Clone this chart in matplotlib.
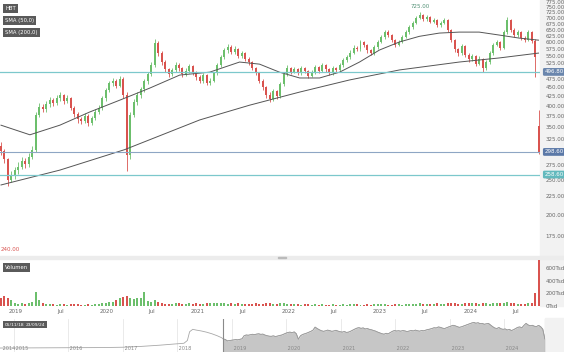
import numpy as np
import pandas as pd
import matplotlib
matplotlib.use("Agg")
import matplotlib.pyplot as plt
from matplotlib.patches import Rectangle

# --- datos (velas quincenales) ---
opens = [310, 300, 285, 250, 258, 266, 272, 282, 276, 290,
         302, 378, 398, 392, 405, 416, 408, 420, 428, 414,
         420, 396, 380, 368, 364, 376, 360, 370, 386, 396,
         420, 442, 462, 470, 455, 476, 430, 292, 378, 410,
         428, 445, 468, 490, 520, 596, 560, 530, 505, 490,
         502, 520, 508, 490, 500, 515, 495, 480, 470, 486,
         462, 470, 492, 520, 546, 570, 582, 565, 576, 550,
         560, 540, 528, 510, 494, 470, 450, 430, 418, 440,
         426, 460, 490, 510, 498, 505, 494, 510, 500, 485,
         496, 512, 500, 520, 505, 494, 510, 504, 520, 536,
         546, 562, 580, 574, 600, 590, 570, 560, 582, 602,
         620, 642, 630, 610, 590, 602, 622, 640, 660, 680,
         700, 714, 694, 706, 684, 690, 668, 680, 690, 648,
         608, 574, 560, 586, 554, 540, 550, 524, 540, 510,
         530, 560, 590, 600, 580, 640, 690, 650, 630, 642,
         618, 610, 640, 606, 352]
closes = [300, 285, 250, 258, 266, 272, 282, 276, 290, 302,
          378, 398, 392, 405, 416, 408, 420, 428, 414, 420,
          396, 380, 368, 364, 376, 360, 370, 386, 396, 420,
          442, 462, 470, 455, 476, 430, 292, 378, 410, 428,
          445, 468, 490, 520, 596, 560, 530, 505, 490, 502,
          520, 508, 490, 500, 515, 495, 480, 470, 486, 462,
          470, 492, 520, 546, 570, 582, 565, 576, 550, 560,
          540, 528, 510, 494, 470, 450, 430, 418, 440, 426,
          460, 490, 510, 498, 505, 494, 510, 500, 485, 496,
          512, 500, 520, 505, 494, 510, 504, 520, 536, 546,
          562, 580, 574, 600, 590, 570, 560, 582, 602, 620,
          642, 630, 610, 590, 602, 622, 640, 660, 680, 700,
          714, 694, 706, 684, 690, 668, 680, 690, 648, 608,
          574, 560, 586, 554, 540, 550, 524, 540, 510, 530,
          560, 590, 600, 580, 640, 690, 650, 630, 642, 618,
          610, 640, 606, 545, 299]
highs = [318, 305, 288, 264, 272, 280, 290, 288, 296, 310,
         384, 408, 404, 414, 424, 420, 428, 438, 432, 428,
         424, 400, 386, 374, 382, 380, 376, 392, 402, 426,
         448, 470, 478, 474, 484, 480, 436, 384, 418, 436,
         452, 476, 498, 530, 612, 604, 566, 536, 510, 510,
         528, 526, 512, 508, 522, 520, 500, 486, 492, 490,
         478, 498, 526, 552, 578, 592, 588, 584, 580, 568,
         564, 546, 532, 514, 498, 474, 454, 436, 446, 444,
         466, 496, 518, 514, 512, 510, 516, 514, 504, 502,
         518, 516, 526, 524, 510, 516, 514, 526, 542, 554,
         570, 588, 586, 608, 606, 594, 576, 588, 610, 628,
         650, 648, 634, 614, 610, 630, 648, 668, 688, 710,
         725, 718, 714, 710, 698, 694, 688, 698, 694, 652,
         612, 580, 594, 590, 560, 558, 554, 548, 544, 536,
         566, 596, 610, 606, 648, 705, 694, 656, 650, 646,
         624, 648, 646, 612, 390]
lows = [292, 278, 240, 246, 252, 260, 268, 270, 272, 286,
        298, 372, 384, 386, 398, 400, 402, 414, 406, 408,
        390, 372, 360, 356, 358, 352, 354, 366, 380, 390,
        414, 436, 454, 448, 450, 420, 265, 285, 372, 402,
        420, 438, 460, 484, 514, 548, 520, 496, 482, 484,
        496, 500, 482, 484, 494, 488, 472, 462, 464, 456,
        456, 466, 488, 514, 540, 562, 556, 558, 544, 544,
        532, 520, 502, 486, 462, 442, 422, 410, 412, 418,
        420, 454, 484, 490, 492, 486, 488, 492, 478, 480,
        490, 494, 496, 498, 486, 488, 496, 498, 514, 530,
        540, 556, 566, 568, 582, 562, 552, 554, 576, 596,
        614, 622, 602, 582, 584, 596, 616, 634, 654, 674,
        694, 686, 688, 676, 676, 660, 662, 672, 640, 600,
        564, 550, 554, 546, 530, 532, 516, 518, 496, 504,
        524, 554, 584, 572, 576, 634, 642, 622, 622, 610,
        600, 604, 598, 480, 295]
volumes = [130, 150, 120, 90, 40, 35, 50, 30, 45, 70,
           220, 90, 40, 30, 25, 30, 22, 25, 30, 20,
           35, 30, 25, 20, 22, 28, 20, 25, 30, 40,
           50, 60, 70, 90, 120, 140, 150, 130, 110, 120,
           125, 220, 80, 70, 90, 60, 45, 35, 30, 28,
           40, 55, 30, 35, 40, 30, 45, 30, 35, 50,
           40, 55, 45, 50, 40, 35, 40, 30, 45, 35,
           30, 35, 30, 40, 30, 35, 45, 40, 30, 35,
           45, 40, 30, 25, 30, 25, 20, 25, 30, 22,
           25, 20, 30, 22, 20, 25, 18, 20, 25, 22,
           28, 25, 30, 22, 20, 25, 22, 28, 25, 30,
           25, 22, 20, 25, 30, 22, 25, 28, 30, 35,
           40, 30, 28, 25, 35, 40, 35, 30, 40, 45,
           40, 35, 30, 45, 40, 55, 40, 35, 45, 40,
           35, 45, 55, 40, 50, 60, 50, 40, 35, 30,
           35, 40, 45, 200, 720]

sma50_dates = ["2018-11-05", "2019-03-01", "2019-06-29", "2019-10-27", "2020-02-24",
               "2020-06-23", "2020-10-22", "2021-02-19", "2021-06-19", "2021-09-07",
               "2021-11-26", "2022-02-15", "2022-05-06", "2022-07-25", "2022-10-13",
               "2023-01-01", "2023-03-22", "2023-06-10", "2023-08-29", "2023-11-17",
               "2024-02-05", "2024-04-26", "2024-07-15", "2024-09-30"]
sma50 = [354, 333, 354, 385, 415, 448, 487, 496, 529, 522, 496, 478,
         478, 496, 529, 571, 601, 623, 636, 640, 640, 628, 616, 608]
sma200_dates = ["2018-11-05", "2019-06-29", "2020-03-15", "2021-01-10", "2021-07-29",
                "2022-02-15", "2022-09-03", "2023-03-22", "2023-11-17", "2024-04-26",
                "2024-09-30"]
sma200 = [242, 266, 303, 366, 402, 437, 472, 503, 529, 543, 560]

# navegador: historia anterior
nav_dates = ["2014-10-01", "2015-03-01", "2015-09-01", "2016-03-01", "2016-09-01",
             "2017-01-01", "2017-05-01", "2017-09-01", "2017-12-15", "2018-02-15",
             "2018-03-10", "2018-03-25", "2018-04-15", "2018-05-10", "2018-06-10",
             "2018-07-15", "2018-08-20", "2018-09-25", "2018-10-25"]
nav_vals = [70, 72, 75, 78, 82, 90, 110, 140, 170, 190,
            260, 480, 540, 520, 500, 470, 430, 380, 330]

levels = [496.80, 258.60]
last_price = 298.60
price_ticks = [175, 200, 225, 250, 275, 325, 350, 375, 400, 425, 450, 475, 500,
               525, 550, 575, 600, 625, 650, 675, 700, 725, 750, 775]
vol_ticks = [0, 200, 400, 600]
vol_labels = ["0Tsd", "200Tsd", "400Tsd", "600Tsd"]

# --- figura ---
W, H = 564, 352
fig = plt.figure(figsize=(W / 100, H / 100), dpi=100)
plt.rcParams['font.family'] = ['DejaVu Sans']


def box(l, t, r, b):
    return [l / W, 1 - b / H, (r - l) / W, (b - t) / H]


GREEN = '#6cbf6c'
RED = '#d9534f'
TXT = '#666666'

# columna gris de la derecha y separador
fig.patches.append(Rectangle((540 / W, 46 / H), 24 / W, 306 / H, transform=fig.transFigure,
                             color='#f2f2f2', zorder=-5))
fig.patches.append(Rectangle((545 / W, 0), 19 / W, 34 / H, transform=fig.transFigure,
                             color='#f2f2f2', zorder=-5))
fig.patches.append(Rectangle((0, 1 - 259 / H), 564 / W, 3.5 / H, transform=fig.transFigure,
                             color='#ececec', zorder=-4))
fig.patches.append(Rectangle((278 / W, 1 - 258 / H), 8 / W, 1.5 / H, transform=fig.transFigure,
                             color='#bbbbbb', zorder=-3))

dates = pd.date_range("2018-11-05", periods=len(closes), freq="14D")
x0, x1 = pd.Timestamp("2018-11-01"), pd.Timestamp("2024-10-06")

o = np.array(opens, float)
c = np.array(closes, float)
up = c >= o
col = np.where(up, GREEN, RED)
bot = np.minimum(o, c)
hgt = np.maximum(np.abs(c - o), 1.5)

ax = fig.add_axes(box(0, 0, 540, 255))
ax.set_yscale('log')
ax.vlines(dates, lows, highs, colors=col, lw=0.6)
ax.bar(dates, hgt, bottom=bot, width=8, color=col, linewidth=0)
ax.plot(pd.to_datetime(sma50_dates), sma50, color='#555555', lw=0.7)
ax.plot(pd.to_datetime(sma200_dates), sma200, color='#555555', lw=0.7)
for lv in levels:
    ax.axhline(lv, color='#7cc8cc', lw=0.9)
ax.axhline(last_price, color='#8ea6c4', lw=0.8)
ax.set_xlim(x0, x1)
ax.set_ylim(155, 785)
ax.yaxis.tick_right()
ax.set_yticks(price_ticks)
ax.set_yticklabels([f"{v:.2f}" for v in price_ticks])
ax.yaxis.set_minor_locator(matplotlib.ticker.NullLocator())
ax.tick_params(axis='y', length=0, pad=4, labelsize=4, labelcolor=TXT)
ax.set_xticks([])
for s in ax.spines.values():
    s.set_visible(False)
ax.patch.set_alpha(0)

yt = ax.get_yaxis_transform()
for lv, fc in [(levels[0], '#6a86ad'), (last_price, '#5b79a8'), (levels[1], '#62b9bd')]:
    ax.text(1.008, lv, f"{lv:.2f}", transform=yt, ha='left', va='center', fontsize=4,
            color='white', clip_on=False,
            bbox=dict(boxstyle='round,pad=0.25', fc=fc, ec='none'))

ax.text(dates[120], 752, "725.00", ha='center', va='center', fontsize=4, color='#4f8f73')
ax.text(dates[0], 161, "240.00", ha='left', va='center', fontsize=4, color=RED)

for ty, lab in [(8.5, "HBT"), (20.5, "SMA (50,0)"), (32.5, "SMA (200,0)")]:
    fig.text(5 / W, 1 - ty / H, lab, ha='left', va='center', fontsize=3.8, color='white',
             bbox=dict(boxstyle='square,pad=0.4', fc='#5a5a5a', ec='none'))

# --- volumen ---
axv = fig.add_axes(box(0, 259, 540, 306))
axv.bar(dates, volumes, width=8, color=col, linewidth=0)
axv.set_xlim(x0, x1)
axv.set_ylim(0, 740)
axv.yaxis.tick_right()
axv.set_yticks(vol_ticks)
axv.set_yticklabels(vol_labels)
tick_dates = []
tick_labels = []
for yr in range(2019, 2025):
    tick_dates += [pd.Timestamp(f"{yr}-01-01"), pd.Timestamp(f"{yr}-07-01")]
    tick_labels += [str(yr), "Jul"]
axv.set_xticks(tick_dates)
axv.set_xticklabels(tick_labels)
axv.tick_params(length=0, labelsize=4, labelcolor=TXT)
axv.tick_params(axis='x', pad=2)
axv.tick_params(axis='y', pad=4)
for s in axv.spines.values():
    s.set_visible(False)
axv.patch.set_alpha(0)
fig.text(5 / W, 1 - 267.5 / H, "Volumen", ha='left', va='center', fontsize=3.8, color='white',
         bbox=dict(boxstyle='square,pad=0.4', fc='#5a5a5a', ec='none'))

# --- navegador ---
axn = fig.add_axes(box(0, 319, 545, 352))
nd = list(pd.to_datetime(nav_dates)) + list(dates)
nv = list(nav_vals) + list(closes)
axn.plot(nd, nv, color='#a8a8a8', lw=0.6)
axn.fill_between(dates, -30, closes, color='#c6c6c6', lw=0)
axn.plot(dates, closes, color='#999999', lw=0.5)
for yr in range(2015, 2025):
    axn.axvline(pd.Timestamp(f"{yr}-01-01"), color='#e2e2e2', lw=0.5, zorder=0)
for yr in range(2014, 2025):
    d = pd.Timestamp(f"{yr}-01-01") if yr > 2014 else pd.Timestamp("2014-10-05")
    axn.text(d, -5, f" {yr}", ha='left', va='bottom', fontsize=3.6, color='#888888')
axn.axvline(dates[0], color='#8a8a8a', lw=0.8)
axn.axvline(dates[-1], color='#8a8a8a', lw=0.8)
axn.set_xlim(pd.Timestamp("2014-10-01"), pd.Timestamp("2024-10-01"))
axn.set_ylim(-30, 800)
axn.set_xticks([])
axn.set_yticks([])
for s in axn.spines.values():
    s.set_visible(False)
fig.text(5 / W, 1 - 324.5 / H, "05/11/18", ha='left', va='center', fontsize=3.2, color='white',
         bbox=dict(boxstyle='square,pad=0.4', fc='#5a5a5a', ec='none'))
fig.text(26 / W, 1 - 324.5 / H, "23/09/24", ha='left', va='center', fontsize=3.2, color='white',
         bbox=dict(boxstyle='square,pad=0.4', fc='#5a5a5a', ec='none'))

fig.savefig("out.png", dpi=100)
